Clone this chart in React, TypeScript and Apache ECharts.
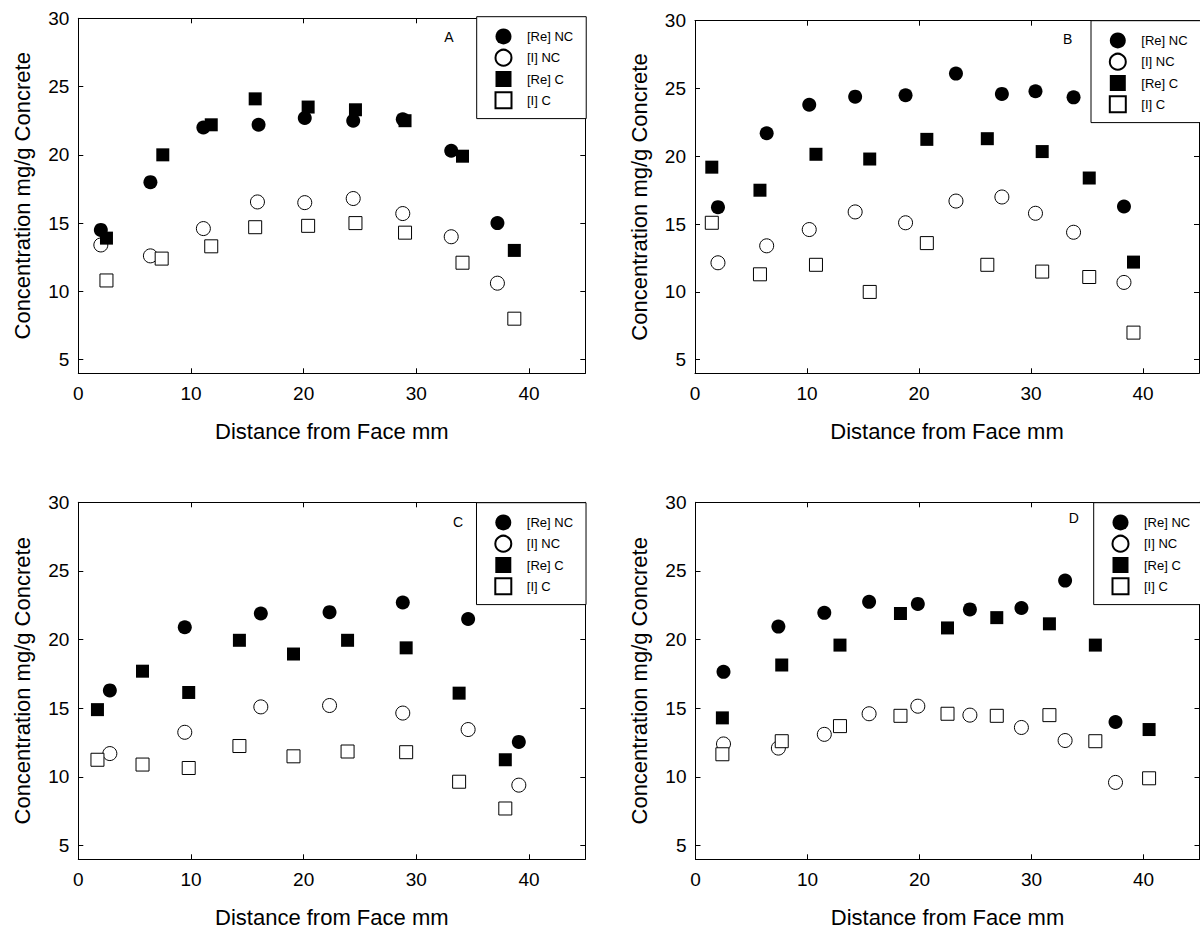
import React, { useEffect, useRef } from "react";
import * as echarts from "echarts";

const SERIES_NAMES = ["[Re] NC", "[I] NC", "[Re] C", "[I] C"];
const PANEL_LETTERS = ["A", "B", "C", "D"];
const X_TICKS = [0, 10, 20, 30, 40];
const Y_TICKS = [5, 10, 15, 20, 25, 30];
const X_TITLE = "Distance from Face mm";
const Y_TITLE = "Concentration mg/g Concrete";

// Panel A
const A_RE_NC = [[2.0, 14.5], [6.4, 18.0], [11.1, 22.0], [16.0, 22.2], [20.1, 22.7], [24.4, 22.5], [28.8, 22.6], [33.1, 20.3], [37.2, 15.0]];
const A_I_NC = [[2.0, 13.4], [6.4, 12.6], [11.1, 14.6], [15.9, 16.55], [20.1, 16.5], [24.4, 16.8], [28.8, 15.7], [33.1, 14.0], [37.2, 10.6]];
const A_RE_C = [[2.5, 13.9], [7.5, 20.0], [11.8, 22.2], [15.7, 24.1], [20.4, 23.5], [24.6, 23.3], [29.0, 22.5], [34.1, 19.9], [38.7, 13.0]];
const A_I_C = [[2.5, 10.8], [7.4, 12.4], [11.8, 13.3], [15.7, 14.7], [20.4, 14.8], [24.6, 15.0], [29.0, 14.3], [34.1, 12.1], [38.7, 8.0]];

// Panel B
const B_RE_NC = [[2.05, 16.25], [6.4, 21.7], [10.2, 23.8], [14.3, 24.4], [18.8, 24.5], [23.3, 26.1], [27.4, 24.6], [30.4, 24.8], [33.8, 24.35], [38.3, 16.3]];
const B_I_NC = [[2.05, 12.15], [6.4, 13.4], [10.2, 14.6], [14.3, 15.9], [18.8, 15.1], [23.3, 16.7], [27.4, 17.0], [30.4, 15.8], [33.8, 14.4], [38.3, 10.7]];
const B_RE_C = [[1.5, 19.2], [5.8, 17.5], [10.8, 20.15], [15.6, 19.8], [20.7, 21.25], [26.1, 21.3], [31.0, 20.35], [35.2, 18.4], [39.15, 12.2]];
const B_I_C = [[1.5, 15.1], [5.8, 11.3], [10.8, 12.0], [15.6, 10.0], [20.7, 13.6], [26.1, 12.0], [31.0, 11.5], [35.2, 11.1], [39.15, 7.0]];

// Panel C
const C_RE_NC = [[2.8, 16.3], [9.45, 20.9], [16.2, 21.9], [22.3, 22.0], [28.8, 22.7], [34.6, 21.5], [39.1, 12.55]];
const C_I_NC = [[2.8, 11.7], [9.45, 13.25], [16.2, 15.1], [22.3, 15.2], [28.8, 14.65], [34.6, 13.45], [39.1, 9.4]];
const C_RE_C = [[1.7, 14.9], [5.7, 17.7], [9.8, 16.15], [14.3, 19.95], [19.1, 18.95], [23.9, 19.95], [29.1, 19.4], [33.8, 16.1], [37.9, 11.25]];
const C_I_C = [[1.7, 11.25], [5.7, 10.9], [9.8, 10.65], [14.3, 12.25], [19.1, 11.5], [23.9, 11.85], [29.1, 11.8], [33.8, 9.65], [37.9, 7.7]];

// Panel D
const D_RE_NC = [[2.5, 17.65], [7.4, 20.95], [11.5, 21.95], [15.5, 22.75], [19.85, 22.6], [24.5, 22.2], [29.1, 22.3], [33.0, 24.3], [37.5, 14.0]];
const D_I_NC = [[2.5, 12.4], [7.4, 12.1], [11.5, 13.1], [15.5, 14.6], [19.85, 15.15], [24.5, 14.5], [29.1, 13.6], [33.0, 12.65], [37.5, 9.6]];
const D_RE_C = [[2.4, 14.3], [7.7, 18.15], [12.9, 19.6], [18.3, 21.9], [22.5, 20.85], [26.9, 21.6], [31.6, 21.15], [35.7, 19.6], [40.5, 13.45]];
const D_I_C = [[2.4, 11.65], [7.7, 12.6], [12.9, 13.7], [18.3, 14.45], [22.5, 14.6], [26.9, 14.45], [31.6, 14.5], [35.7, 12.6], [40.5, 9.9]];

const PANEL_DATA = [
  [A_RE_NC, A_I_NC, A_RE_C, A_I_C],
  [B_RE_NC, B_I_NC, B_RE_C, B_I_C],
  [C_RE_NC, C_I_NC, C_RE_C, C_I_C],
  [D_RE_NC, D_I_NC, D_RE_C, D_I_C],
];

const FONT = "'Liberation Sans', Arial, Helvetica, sans-serif";

const GRIDS = [
  { left: 78.3, top: 18.3, width: 507, height: 355 },
  { left: 695, top: 20.7, width: 504, height: 352.6 },
  { left: 78.3, top: 502.3, width: 507, height: 357 },
  { left: 695.5, top: 502.3, width: 504, height: 357 },
];
const LEGEND_POS = [
  { left: 476.7, top: 16.7 },
  { left: 1091, top: 20.7 },
  { left: 476.5, top: 502.7 },
  { left: 1093.7, top: 502.7 },
];
const LETTER_POS = [
  [449, 36.7],
  [1067.7, 39.3],
  [458, 522.3],
  [1073.8, 517.7],
];

const SERIES_STYLE = [
  { symbol: "circle", symbolSize: 14, itemStyle: { color: "#000", borderColor: "#000", borderWidth: 0, opacity: 1 } },
  { symbol: "circle", symbolSize: 14, itemStyle: { color: "#fff", borderColor: "#000", borderWidth: 1, opacity: 1 } },
  { symbol: "rect", symbolSize: 13, itemStyle: { color: "#000", borderColor: "#000", borderWidth: 0, opacity: 1 } },
  { symbol: "rect", symbolSize: 13, itemStyle: { color: "#fff", borderColor: "#000", borderWidth: 1, opacity: 1 } },
];

function buildOption() {
  const grid: any[] = [];
  const xAxis: any[] = [];
  const yAxis: any[] = [];
  const series: any[] = [];
  const legend: any[] = [];
  const graphic: any[] = [];
  const lineStyle = { color: "#000", width: 1 };

  GRIDS.forEach((g, i) => {
    grid.push({ ...g, containLabel: false });
    xAxis.push({
      type: "value",
      gridIndex: i,
      position: "bottom",
      min: 0,
      max: 45,
      name: X_TITLE,
      nameLocation: "middle",
      nameGap: 47,
      nameTextStyle: { fontSize: 22, color: "#000", fontFamily: FONT },
      axisLine: { show: true, onZero: false, lineStyle },
      axisTick: { show: true, inside: true, length: 5, lineStyle, customValues: X_TICKS },
      axisLabel: { show: true, fontSize: 19, color: "#000", fontFamily: FONT, margin: 11, customValues: X_TICKS },
      splitLine: { show: false },
    });
    xAxis.push({
      type: "value",
      gridIndex: i,
      position: "top",
      min: 0,
      max: 45,
      axisLine: { show: true, onZero: false, lineStyle },
      axisTick: { show: true, inside: true, length: 5, lineStyle, customValues: X_TICKS },
      axisLabel: { show: false },
      splitLine: { show: false },
    });
    yAxis.push({
      type: "value",
      gridIndex: i,
      position: "left",
      min: 4,
      max: 30,
      name: Y_TITLE,
      nameLocation: "middle",
      nameGap: 45,
      nameTextStyle: { fontSize: 22, color: "#000", fontFamily: FONT },
      axisLine: { show: true, onZero: false, lineStyle },
      axisTick: { show: true, inside: true, length: 5, lineStyle, customValues: Y_TICKS },
      axisLabel: { show: true, fontSize: 19, color: "#000", fontFamily: FONT, margin: 9, customValues: Y_TICKS },
      splitLine: { show: false },
    });
    yAxis.push({
      type: "value",
      gridIndex: i,
      position: "right",
      min: 4,
      max: 30,
      axisLine: { show: true, onZero: false, lineStyle },
      axisTick: { show: true, inside: true, length: 5, lineStyle, customValues: Y_TICKS },
      axisLabel: { show: false },
      splitLine: { show: false },
    });

    PANEL_DATA[i].forEach((data, s) => {
      series.push({
        type: "scatter",
        name: SERIES_NAMES[s],
        xAxisIndex: i * 2,
        yAxisIndex: i * 2,
        data,
        ...SERIES_STYLE[s],
        emphasis: { disabled: true },
        silent: true,
      });
    });

    legend.push({
      show: true,
      orient: "vertical",
      left: LEGEND_POS[i].left,
      top: LEGEND_POS[i].top,
      data: SERIES_NAMES,
      itemWidth: 16,
      itemHeight: 16,
      itemGap: 4.3,
      padding: [11.7, 13, 9.3, 17.8],
      borderColor: "#000",
      borderWidth: 1,
      backgroundColor: "#fff",
      selectedMode: false,
      textStyle: { fontSize: 13, color: "#000", fontFamily: FONT, padding: [0, 0, 0, 10.5] },
    });

    graphic.push({
      type: "text",
      x: LETTER_POS[i][0],
      y: LETTER_POS[i][1],
      style: {
        text: PANEL_LETTERS[i],
        fontSize: 14,
        fontFamily: FONT,
        fill: "#000",
        align: "center",
        verticalAlign: "middle",
      },
    });
  });

  return {
    animation: false,
    backgroundColor: "#fff",
    grid,
    xAxis,
    yAxis,
    series,
    legend,
    graphic,
  };
}

export default function App() {
  const ref = useRef<HTMLDivElement>(null);
  useEffect(() => {
    if (!ref.current) return;
    const chart = echarts.init(ref.current, null, { renderer: "svg" });
    chart.setOption(buildOption());
    return () => chart.dispose();
  }, []);
  return (
    <div
      ref={ref}
      style={{ position: "absolute", left: 0, top: 0, width: 1200, height: 933, background: "#fff" }}
    />
  );
}
